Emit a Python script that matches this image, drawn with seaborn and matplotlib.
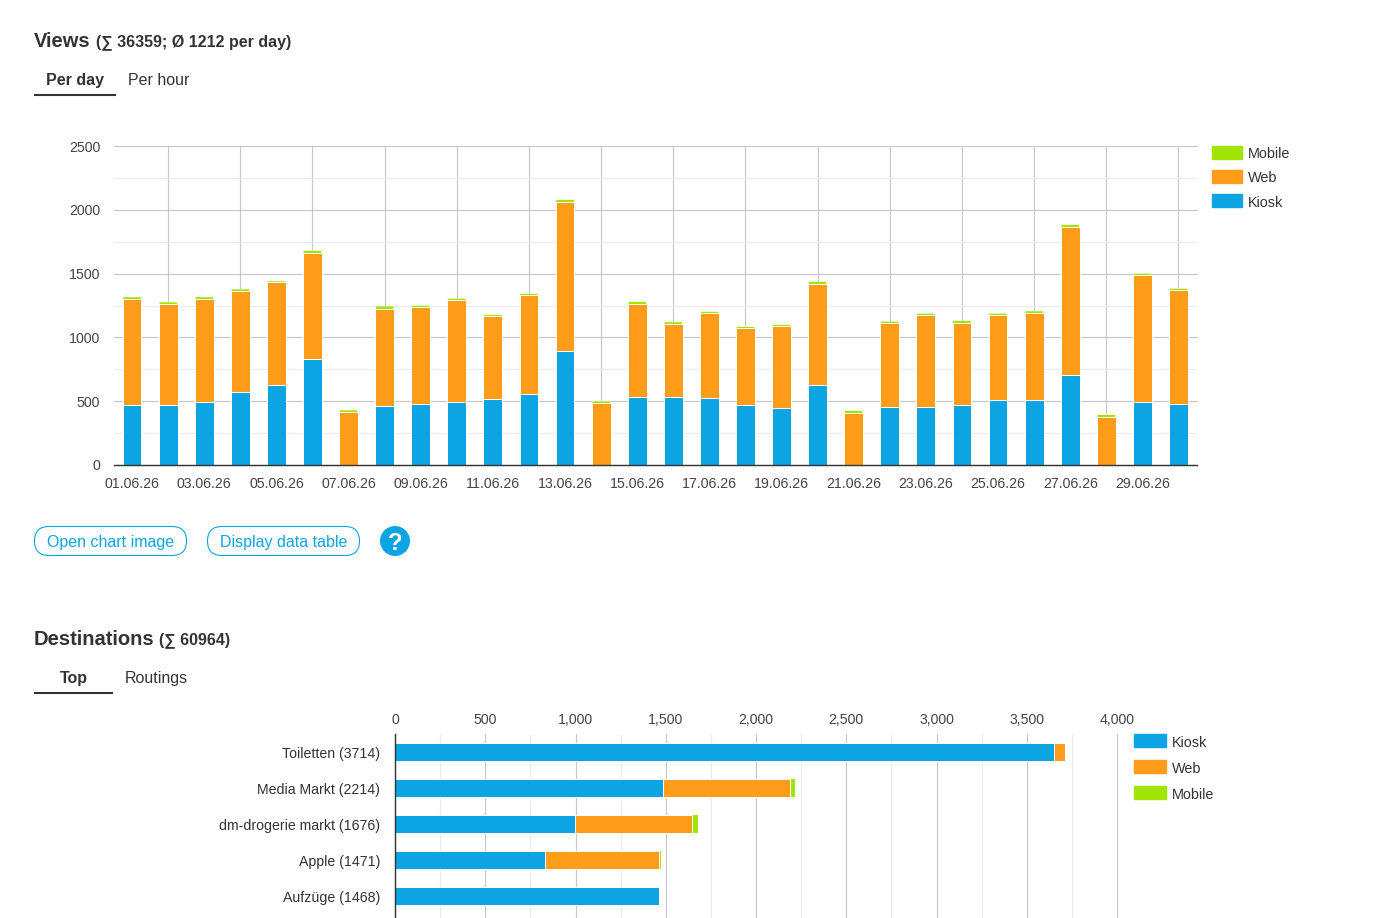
"""
Views per day and top destinations, stacked bars by channel
"""

# ── 0. Imports ─────────────────────────────────────────────────────────────────
import numpy as np
import matplotlib
matplotlib.use("Agg")
import matplotlib.pyplot as plt
import seaborn as sns
from matplotlib.legend_handler import HandlerPatch
from matplotlib.patches import Patch, FancyBboxPatch, Circle

# ── 1. Data ────────────────────────────────────────────────────────────────────
days = [f"{d:02d}.06.26" for d in range(1, 31)]
day_kiosk = [473, 470, 496, 575, 630, 833, 0, 460, 475, 491, 515, 554, 891, 0, 530,
             530, 522, 468, 444, 624, 0, 452, 452, 468, 507, 507, 703, 0, 491, 475]
day_web = [828, 792, 805, 789, 807, 832, 415, 765, 766, 805, 655, 781, 1173, 488, 734,
           578, 672, 608, 648, 797, 410, 663, 726, 647, 671, 687, 1165, 379, 1001, 899]
day_mobile = [16, 15, 16, 15, 5, 16, 16, 21, 10, 10, 8, 8, 15, 13, 16,
              13, 8, 8, 8, 16, 16, 11, 11, 16, 11, 13, 15, 15, 10, 10]

destinations = ["Toiletten (3714)", "Media Markt (2214)", "dm-drogerie markt (1676)",
                "Apple (1471)", "Aufzüge (1468)"]
dest_kiosk = [3649, 1484, 995, 831, 1462]
dest_web = [63, 703, 650, 632, 2]
dest_mobile = [2, 27, 31, 8, 4]

COL_KIOSK = "#0CA4E3"
COL_WEB = "#FF9C1A"
COL_MOBILE = "#A1E506"
COL_TEXT = "#333333"
COL_TICK = "#444444"
COL_GRID = "#C8C8C8"
COL_MINOR = "#EBEBEB"

# ── 2. Figure setup ────────────────────────────────────────────────────────────
sns.set_theme(style="white")
plt.rcParams["font.family"] = ["Liberation Sans", "DejaVu Sans"]

W, H = 1375, 918
fig = plt.figure(figsize=(W / 100, H / 100), dpi=100, facecolor="white")


def axes_px(left, top, right, bottom):
    return fig.add_axes([left / W, 1 - bottom / H, (right - left) / W, (bottom - top) / H])


def style_grid(ax, axis):
    ax.grid(True, which="major", axis=axis, color=COL_GRID, linewidth=0.85)
    ax.grid(True, which="minor", axis=axis, color=COL_MINOR, linewidth=0.85)
    ax.set_axisbelow(True)
    ax.tick_params(which="both", length=0, colors=COL_TICK, labelsize=10.2)
    for side in ["top", "right", "bottom", "left"]:
        ax.spines[side].set_visible(False)


bar_kws = dict(saturation=1, width=0.52, edgecolor="white", linewidth=0.7)
# mobile is often under 2px: not snapped, so the thin ones come out pale
top_kws = dict(saturation=1, width=0.5, edgecolor="white", linewidth=0.35, snap=False)
handles = {"Kiosk": Patch(color=COL_KIOSK), "Web": Patch(color=COL_WEB), "Mobile": Patch(color=COL_MOBILE)}
legend_kws = dict(loc="upper left", bbox_transform=fig.transFigure, frameon=False, fontsize=10.4,
                  labelcolor=COL_TEXT, borderpad=0, borderaxespad=0, handletextpad=0.42)

# ── 3. Views per day ───────────────────────────────────────────────────────────
ax1 = axes_px(114, 146, 1196.5, 465)
day_k = np.array(day_kiosk)
day_w = np.array(day_web)
day_m = np.array(day_mobile)
# back to front: each layer is the running total
sns.barplot(x=days, y=day_k + day_w + day_m, color=COL_MOBILE, ax=ax1, **top_kws)
sns.barplot(x=days, y=day_k + day_w, color=COL_WEB, ax=ax1, **bar_kws)
sns.barplot(x=days, y=day_k, color=COL_KIOSK, ax=ax1, **bar_kws)

ax1.set_ylim(0, 2500)
ax1.set_xlim(-0.5, 29.5)
ax1.set_yticks(np.arange(0, 2501, 500))
ax1.set_yticks(np.arange(250, 2500, 500), minor=True)
ax1.set_xticks(range(0, 30, 2), days[::2])
ax1.set_xticks(range(1, 30, 2), minor=True)
style_grid(ax1, "y")
ax1.grid(True, which="minor", axis="x", color=COL_GRID, linewidth=0.85)
ax1.tick_params(axis="x", which="major", pad=8.7)
ax1.tick_params(axis="y", which="major", pad=10)
ax1.spines["bottom"].set_visible(True)
ax1.spines["bottom"].set_color(COL_TEXT)
ax1.spines["bottom"].set_linewidth(1)
for line in ax1.get_ygridlines():
    line.set_clip_on(False)

# ypad lifts the swatch a little above the label
ax1.legend([handles["Mobile"], handles["Web"], handles["Kiosk"]], ["Mobile", "Web", "Kiosk"],
           bbox_to_anchor=(1212 / W, 1 - 146 / H), handlelength=2.08, handleheight=1.19,
           labelspacing=0.62, handler_map={Patch: HandlerPatch(ypad=0.15)}, **legend_kws)

# ── 4. Top destinations ────────────────────────────────────────────────────────
ax2 = axes_px(395, 734, 1117, 918)
dest_k = np.array(dest_kiosk)
dest_w = np.array(dest_web)
dest_m = np.array(dest_mobile)
sns.barplot(y=destinations, x=dest_k + dest_w + dest_m, color=COL_MOBILE, orient="y", ax=ax2,
            saturation=1, width=0.5, linewidth=0)
sns.barplot(y=destinations, x=dest_k + dest_w, color=COL_WEB, orient="y", ax=ax2, **bar_kws)
sns.barplot(y=destinations, x=dest_k, color=COL_KIOSK, orient="y", ax=ax2, **bar_kws)

ax2.set_xlim(0, 4000)
ax2.set_ylim(4.61, -0.5)  # the chart runs off the bottom of the page
ax2.set_xticks(np.arange(0, 4001, 500), [f"{v:,}" for v in range(0, 4001, 500)])
ax2.set_xticks(np.arange(250, 4000, 500), minor=True)
style_grid(ax2, "x")
ax2.xaxis.tick_top()
ax2.tick_params(axis="x", which="major", pad=5)
ax2.tick_params(axis="y", which="major", pad=10.8, labelcolor=COL_TEXT)
ax2.spines["left"].set_visible(True)
ax2.spines["left"].set_color(COL_TEXT)
ax2.spines["left"].set_linewidth(1)
for line in ax2.get_xgridlines():
    line.set_clip_on(False)

ax2.legend([handles["Kiosk"], handles["Web"], handles["Mobile"]], ["Kiosk", "Web", "Mobile"],
           bbox_to_anchor=(1134 / W, 1 - 734 / H), handlelength=2.22, handleheight=1.35,
           labelspacing=0.68, handler_map={Patch: HandlerPatch(ypad=0.24)}, **legend_kws)

# ── 5. Page furniture (headings, tabs, buttons) in pixel coordinates ───────────
page = fig.add_axes([0, 0, 1, 1], zorder=-1)
page.set_xlim(0, W)
page.set_ylim(H, 0)
page.axis("off")


def px_font(size):
    return size * 0.72


page.text(34, 47, "Views", fontsize=px_font(20.2), fontweight="bold", color=COL_TEXT)
page.text(96, 46, "(∑ 36359; Ø 1212 per day)", fontsize=px_font(16), fontweight="bold", color=COL_TEXT)
page.text(46, 85, "Per day", fontsize=px_font(16), fontweight="bold", color=COL_TEXT)
page.text(128, 85, "Per hour", fontsize=px_font(16), color=COL_TEXT)
page.plot([34, 116], [95, 95], color=COL_TEXT, linewidth=1.5, solid_capstyle="butt")

page.text(34, 645, "Destinations", fontsize=px_font(20.2), fontweight="bold", color=COL_TEXT)
page.text(159, 644, "(∑ 60964)", fontsize=px_font(16), fontweight="bold", color=COL_TEXT)
page.text(60, 683, "Top", fontsize=px_font(16), fontweight="bold", color=COL_TEXT)
page.text(125, 683, "Routings", fontsize=px_font(16), color=COL_TEXT)
page.plot([34, 113], [692.5, 692.5], color=COL_TEXT, linewidth=1.5, solid_capstyle="butt")

for x0, x1, label in [(34.5, 186.5, "Open chart image"), (207.5, 359.5, "Display data table")]:
    page.add_patch(FancyBboxPatch((x0, 526.5), x1 - x0, 29, boxstyle="round,pad=0,rounding_size=14.5",
                                  facecolor="white", edgecolor=COL_KIOSK, linewidth=0.8))
    page.text(x0 + 13, 547, label, fontsize=px_font(16), color=COL_KIOSK)
page.add_patch(Circle((395, 541), 15, facecolor=COL_KIOSK, edgecolor="none"))
page.text(395, 541, "?", fontsize=px_font(24), fontweight="bold", color="white", ha="center", va="center_baseline")

plt.savefig("out.png", dpi=100, facecolor="white")
